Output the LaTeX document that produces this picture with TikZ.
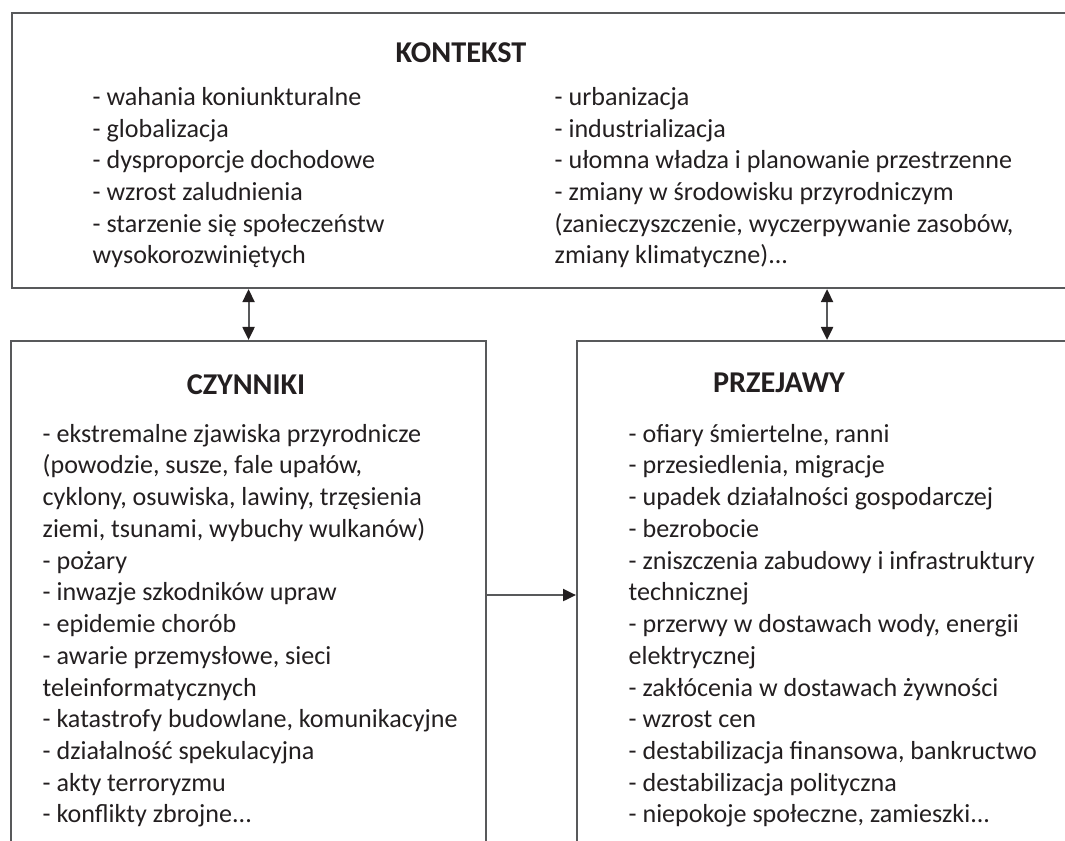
\documentclass[tikz,border=0pt]{standalone}
\usepackage{fontspec}
\setmainfont{Carlito}
\usetikzlibrary{arrows.meta, positioning}
\definecolor{tekst}{HTML}{231F20}
\definecolor{linia}{HTML}{58595B}

\begin{document}
\begin{tikzpicture}[scale=1, >={Triangle[length=0.13cm, width=0.12cm, color=tekst]},
    pole/.style={draw=linia, line width=0.6pt, inner sep=0pt, anchor=north west},
    tytul/.style={font=\fontsize{8.6}{10}\selectfont\bfseries, text=tekst, inner sep=0pt},
    lista/.style={font=\fontsize{7.42}{9.03}\selectfont, text=tekst, align=left, inner sep=0pt, anchor=base west},
    strzalka/.style={draw=linia, line width=0.6pt}]
    \useasboundingbox (0,0) rectangle (10.65,-8.41);

    % ramki (prawa i dolna krawedz poza obrazkiem)
    \node[pole, minimum width=10.79cm, minimum height=2.75cm] (kontekst) at (0.11,-0.12) {};
    \node[pole, minimum width=4.75cm, minimum height=5.08cm] (czynniki) at (0.10,-3.40) {};
    \node[pole, minimum width=5.00cm, minimum height=5.08cm] (przejawy) at (5.76,-3.40) {};

    % listy: punkt bazowy = ostatni wiersz
    \node[tytul] (kontekst-t) at (4.61,-0.53) {KONTEKST};
    \node[lista] (kontekst-l) at (0.92,-2.64) {- wahania koniunkturalne\\- globalizacja\\- dysproporcje dochodowe\\- wzrost zaludnienia\\- starzenie się społeczeństw\\wysokorozwiniętych};
    \node[lista] (kontekst-p) at (5.54,-2.64) {- urbanizacja\\- industrializacja\\- ułomna władza i planowanie przestrzenne\\- zmiany w środowisku przyrodniczym\\(zanieczyszczenie, wyczerpywanie zasobów,\\zmiany klimatyczne)...};

    \node[tytul] (czynniki-t) at (2.46,-3.85) {CZYNNIKI};
    \node[lista] (czynniki-l) at (0.42,-8.23) {- ekstremalne zjawiska przyrodnicze\\(powodzie, susze, fale upałów,\\cyklony, osuwiska, lawiny, trzęsienia\\ziemi, tsunami, wybuchy wulkanów)\\- pożary\\- inwazje szkodników upraw\\- epidemie chorób\\- awarie przemysłowe, sieci\\teleinformatycznych\\- katastrofy budowlane, komunikacyjne\\- działalność spekulacyjna\\- akty terroryzmu\\- konflikty zbrojne...};

    \node[tytul] (przejawy-t) at (7.79,-3.83) {PRZEJAWY};
    \node[lista] (przejawy-l) at (6.28,-8.23) {- ofiary śmiertelne, ranni\\- przesiedlenia, migracje\\- upadek działalności gospodarczej\\- bezrobocie\\- zniszczenia zabudowy i infrastruktury\\technicznej\\- przerwy w dostawach wody, energii\\elektrycznej\\- zakłócenia w dostawach żywności\\- wzrost cen\\- destabilizacja finansowa, bankructwo\\- destabilizacja polityczna\\- niepokoje społeczne, zamieszki...};

    \draw[strzalka, <->] (czynniki.north) -- (czynniki.north |- kontekst.south);
    \draw[strzalka, <->] (przejawy.north) -- (przejawy.north |- kontekst.south);
    \draw[strzalka, ->] (czynniki.east) -- (przejawy.west);
\end{tikzpicture}
\end{document}
